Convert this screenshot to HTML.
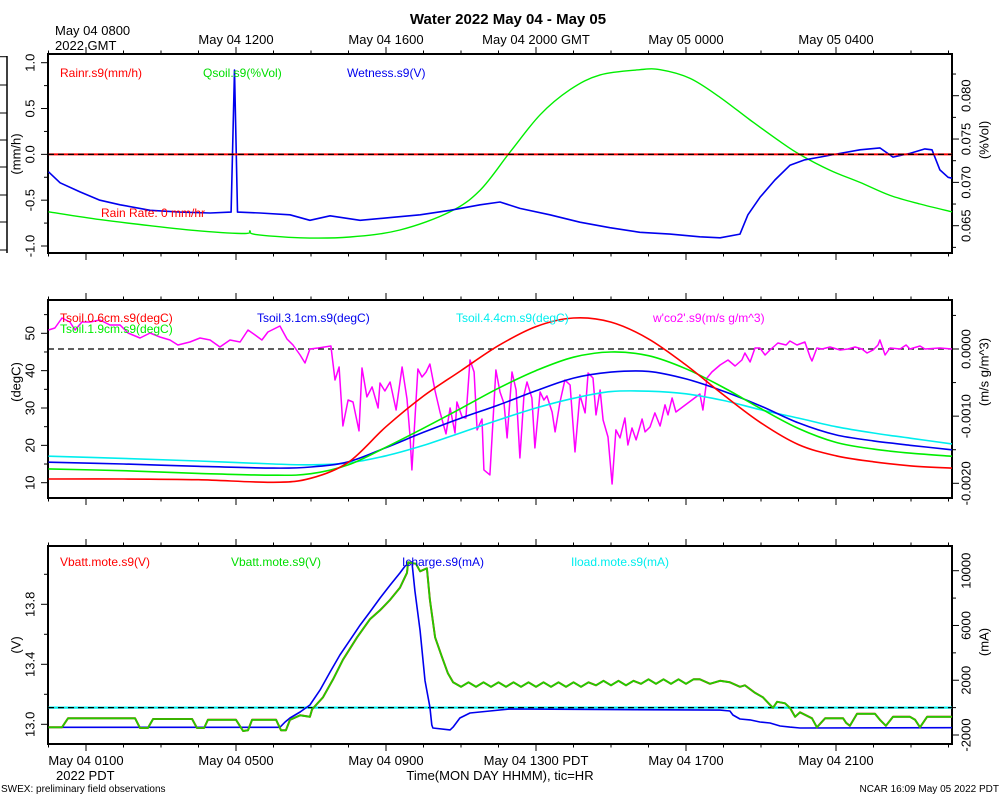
<!DOCTYPE html>
<html><head><meta charset="utf-8">
<style>
html,body{margin:0;padding:0;background:#fff;}
svg{display:block;font-family:"Liberation Sans",Arial,sans-serif;}
</style></head>
<body>
<svg id="chart" width="1000" height="800" viewBox="0 0 1000 800"></svg>
<script>
// ---------- DATA (time in hours since May 04 0000 PDT) ----------
// Panel 1
const wetT = [0,0.31,0.84,1.37,1.91,2.71,3.51,4.31,4.87,4.96,5.04,5.64,6.44,6.97,7.51,8.31,9.11,9.91,10.71,11.51,12.04,12.57,13.37,14.17,14.97,15.77,16.57,17.37,17.91,18.44,18.65,18.97,19.37,19.77,20.17,20.57,21.11,21.64,22.17,22.52,22.97,23.37,23.56,23.77,23.99,24.09];
const wetV = [-0.19,-0.31,-0.41,-0.50,-0.55,-0.61,-0.63,-0.64,-0.63,0.92,-0.63,-0.64,-0.66,-0.72,-0.67,-0.72,-0.69,-0.66,-0.61,-0.55,-0.52,-0.59,-0.66,-0.74,-0.80,-0.85,-0.87,-0.90,-0.91,-0.87,-0.66,-0.47,-0.28,-0.12,-0.06,-0.03,0.01,0.05,0.07,-0.03,0.01,0.06,0.05,-0.17,-0.25,-0.26];
const qsT = [0,1.37,2.71,4.04,5.24,5.37,5.51,6.71,8.04,9.37,10.71,11.51,12.31,13.11,13.91,14.71,15.77,16.31,17.11,17.91,18.71,19.51,20.04,20.84,21.64,22.44,23.24,24.09];
const qsV = [0.0666,0.0657,0.0650,0.0644,0.0641,0.0644,0.0640,0.0636,0.0637,0.0645,0.0666,0.0691,0.0735,0.0778,0.0807,0.0824,0.0830,0.0830,0.0820,0.0798,0.0772,0.0747,0.0732,0.0714,0.0700,0.0685,0.0675,0.0666];
const rainT = [0,24.09];
const rainV = [0,0];
// Panel 2
const tsT = [0,2,4,6,7,8,9,10,11,12,13,14,15,16,17,18,19,20,21,22,23,24.09];
const ts06 = [11.0,11.0,10.8,10.1,11.2,15.5,25.0,33.2,40.0,46.7,51.8,54.1,53.0,48.5,41.5,33.5,26.0,20.2,17.2,15.6,14.5,13.9];
const ts19 = [13.7,13.2,12.5,12.0,12.4,14.8,19.5,24.6,29.9,35.3,40.0,43.6,45.0,44.0,40.5,35.5,29.8,24.5,20.8,19.0,17.9,17.1];
const ts31 = [15.5,15.0,14.4,13.9,14.2,15.6,19.4,23.5,27.3,30.8,34.6,38.0,39.6,39.8,37.8,34.5,30.5,26.0,22.8,21.2,20.0,18.8];
const ts44 = [17.1,16.5,15.8,15.0,14.8,15.3,17.2,20.0,23.4,26.8,30.0,32.6,34.4,34.5,33.8,32.0,29.5,27.3,25.0,23.3,21.9,20.4];
const co2T = [0,0.17,0.36,0.57,0.71,0.89,1.11,1.37,1.64,1.91,2.12,2.44,2.71,2.97,3.24,3.45,3.77,4.04,4.31,4.57,4.84,5.11,5.32,5.51,5.69,5.85,
6.17,6.36,6.52,6.71,6.84,6.97,7.19,7.53,7.64,7.75,7.85,7.99,8.12,8.28,8.36,8.49,8.63,8.79,8.84,8.97,9.11,9.27,9.43,9.56,9.64,9.69,9.85,9.96,10.07,10.17,10.31,10.44,10.6,10.71,10.84,10.89,11.03,11.13,11.24,11.35,11.43,11.56,11.61,11.77,11.93,12.04,12.15,12.23,12.36,12.47,12.57,12.68,12.76,12.89,12.97,13.11,13.21,13.29,13.43,13.51,13.64,13.77,13.91,14.04,14.17,14.31,14.39,14.52,14.6,14.71,14.79,14.92,15.03,15.13,15.24,15.37,15.45,15.56,15.67,15.83,15.91,16.04,16.17,16.31,16.44,16.52,16.63,16.73,
17.37,17.45,17.56,17.69,17.91,18.12,18.31,18.49,18.57,18.71,18.84,18.97,19.11,19.24,19.45,19.67,19.77,19.96,20.17,20.31,20.36,20.49,20.63,20.84,21.11,21.32,21.51,21.69,21.83,21.99,22.12,22.17,22.31,22.44,22.71,22.87,22.97,23.24,23.37,23.77,24.09];
// w'co2' values in units of 1e-4 m/s g/m^3
const co2V = [2.83,3.13,4.61,4.02,2.83,4.02,4.02,4.32,3.57,3.57,2.38,1.64,2.38,1.79,1.34,0.60,1.04,1.64,1.34,0.30,1.34,1.04,2.83,2.08,1.34,2.53,
3.42,1.49,0.60,-0.89,-2.08,0,0.15,0.45,-4.61,-2.68,-11.46,-7.59,-7.89,-12.20,-2.83,-7.14,-5.65,-8.78,-5.06,-6.25,-4.91,-9.08,-2.68,-7.44,-12.95,-18.01,-2.98,-4.17,-3.42,-2.23,-6.25,-9.38,-12.65,-8.78,-12.5,-7.89,-10.12,-10.27,-1.64,-3.42,-12.05,-10.42,-18.01,-18.75,-3.13,-6.40,-8.18,-13.24,-3.42,-6.10,-16.22,-6.85,-4.91,-7.29,-14.73,-6.40,-7.59,-6.99,-9.38,-12.35,-7.89,-4.61,-5.36,-15.33,-6.85,-9.52,-3.57,-4.32,-9.82,-6.10,-10.57,-13.10,-20.1,-12.05,-13.24,-10.27,-14.29,-11.76,-13.54,-10.42,-12.35,-11.61,-9.52,-11.46,-8.33,-9.82,-7.29,-9.38,
-6.70,-9.08,-4.32,-3.42,-2.38,-1.64,-2.53,-1.64,-0.60,-1.93,0.15,0.15,-0.89,-0.15,0.89,0.60,1.19,0.60,1.04,-1.19,-1.79,0.15,0,0.30,-0.15,0,0.30,0,-0.60,-0.15,0.60,1.34,-0.89,0.15,0,0.60,0,0.45,0,0.15,0];
// Panel 3
const vbT = [0,0.36,0.52,2.31,2.44,2.65,2.79,3.83,3.96,4.15,4.25,5.0,5.19,5.32,5.43,6.07,6.2,6.33,6.44,6.71,6.97,7.03,7.32,7.59,7.85,8.23,8.57,8.84,9.11,9.37,9.56,9.59,9.80,9.91,10.09,10.17,10.31,10.49,10.65,10.79,
11.0,11.2,11.4,11.6,11.8,12.0,12.2,12.4,12.6,12.8,13.0,13.2,13.4,13.6,13.8,14.0,14.2,14.4,14.6,14.8,15.0,15.2,15.4,15.6,15.8,16.0,16.2,16.4,16.6,16.8,17.0,17.2,
17.37,17.64,17.91,18.17,18.44,18.57,18.84,19.05,19.24,19.32,19.43,19.64,19.77,19.91,20.04,20.36,20.49,20.71,21.19,21.27,21.37,21.56,21.91,22.04,22.17,22.33,22.52,22.97,23.11,23.24,23.43,23.91,24.09];
const vbV = [12.98,12.98,13.04,13.04,12.975,12.975,13.035,13.035,12.975,12.975,13.03,13.03,12.955,12.96,13.03,13.03,12.96,12.96,13.03,13.06,13.05,13.10,13.18,13.30,13.43,13.58,13.70,13.76,13.83,13.91,14.01,14.08,14.07,14.02,14.04,13.83,13.58,13.45,13.34,13.28,
13.25,13.28,13.25,13.28,13.25,13.28,13.25,13.28,13.25,13.28,13.25,13.28,13.25,13.28,13.25,13.28,13.25,13.28,13.26,13.29,13.26,13.29,13.26,13.29,13.27,13.30,13.27,13.30,13.27,13.30,13.27,13.30,
13.30,13.27,13.29,13.28,13.25,13.26,13.21,13.18,13.13,13.11,13.15,13.14,13.11,13.05,13.08,13.04,12.98,13.04,13.04,13.01,12.99,13.07,13.07,13.07,13.03,12.99,13.05,13.05,13.03,12.98,13.05,13.05,13.05];
const icT = [0,6.17,6.31,6.44,6.71,6.97,7.24,7.51,7.77,8.04,8.31,8.57,8.84,9.11,9.37,9.51,9.69,9.77,9.91,10.04,10.17,10.22,10.25,10.71,10.79,10.97,11.24,11.77,12.31,17.91,18.17,18.25,18.44,18.71,18.97,19.24,19.51,19.77,20.04,24.09];
const icV = [-1440,-1440,-1050,-760,-320,190,1280,2600,3840,4930,6030,6980,8000,8950,9830,10340,10650,8530,5620,1970,40,-1270,-1490,-1630,-1420,-760,-390,-250,-100,-180,-250,-540,-830,-900,-1050,-1120,-1340,-1420,-1490,-1470];
const ilT = [0,24.09];
const ilV = [0,0];
// tick label arrays
const topTickLabels = ["May 04 1200","May 04 1600","May 04 2000 GMT","May 05 0000","May 05 0400"];
const topTickHours = [5,9,13,17,21];
const botTickLabels = ["May 04 0500","May 04 0900","May 04 1300 PDT","May 04 1700","May 04 2100"];
const botTickHours = [5,9,13,17,21];
const p1LeftTicks = [1.0,0.5,0.0,-0.5,-1.0];
const p1RightTicks = [0.080,0.075,0.070,0.065];
const p2LeftTicks = [50,40,30,20,10];
const p2RightTicks = [0,-10,-20];
const p3LeftTicks = [13.8,13.4,13.0];
const p3RightTicks = [10000,6000,2000,-2000];

// ---------- HELPERS ----------
const NS="http://www.w3.org/2000/svg";
const svg=document.getElementById('chart');
function mk(tag,attrs,parent){const e=document.createElementNS(NS,tag);for(const k in attrs)e.setAttribute(k,attrs[k]);(parent||svg).appendChild(e);return e;}
const XL=48, XR=952;
const xs = t => 48.5 + 37.5*t;
function lin(v0,y0,v1,y1){return v=>y0+(v-v0)*(y1-y0)/(v1-v0);}
const P = [
 {top:54,bot:253, yl:lin(1,62.7,-1,246), yr:lin(0.080,95.7,0.065,225.7)},
 {top:300,bot:498, yl:lin(50,333.3,10,482.7), yr:lin(0,349,-20,483.3)},
 {top:546,bot:744, yl:lin(13.8,604.3,13.0,724.3), yr:lin(10000,570.7,-2000,735)}
];
function line(ts,vs,ys,color,name,w,smooth){
  const pts=ts.map((t,i)=>[xs(t),ys(vs[i])]);
  let d='M'+pts[0][0].toFixed(1)+' '+pts[0][1].toFixed(1);
  for(let i=1;i<pts.length;i++){
    if(smooth){
      const p0=pts[Math.max(0,i-2)],p1=pts[i-1],p2=pts[i],p3=pts[Math.min(pts.length-1,i+1)];
      const c1=[p1[0]+(p2[0]-p0[0])/6,p1[1]+(p2[1]-p0[1])/6];
      const c2=[p2[0]-(p3[0]-p1[0])/6,p2[1]-(p3[1]-p1[1])/6];
      d+='C'+c1[0].toFixed(1)+' '+c1[1].toFixed(1)+' '+c2[0].toFixed(1)+' '+c2[1].toFixed(1)+' '+p2[0].toFixed(1)+' '+p2[1].toFixed(1);
    } else d+='L'+pts[i][0].toFixed(1)+' '+pts[i][1].toFixed(1);
  }
  const p=mk('path',{d:d,fill:'none',stroke:color,'stroke-width':w||1.6,'stroke-linejoin':'round'});
  
  
  return p;
}
function text(x,y,s,attrs,name){
  const t=mk('text',Object.assign({x:x,y:y,'font-size':13,fill:'#000'},attrs||{}));
  t.textContent=s;
  
  
  return t;
}
function rtext(cx,cy,s,name,fs,color){
  const t=mk('text',{x:0,y:0,'font-size':fs||13,fill:color||'#000','text-anchor':'middle',transform:`translate(${cx},${cy}) rotate(-90)`,'dominant-baseline':'middle'});
  t.textContent=s;
  
  
  return t;
}

// ---------- TITLE ----------
text(508,24,"Water 2022 May 04 - May 05",{'font-size':15,'font-weight':'bold','text-anchor':'middle'},'chart-title');
text(55,35,"May 04 0800",{}, 'top-axis-first-label');
text(55,50,"2022 GMT",{}, 'top-axis-year-label');
topTickLabels.forEach((s,i)=>text(xs(topTickHours[i]),44,s,{'text-anchor':'middle'},'top-tick-label'));
text(86,765,"May 04 0100",{'text-anchor':'middle'},'bottom-axis-first-label');
text(56,780,"2022 PDT",{},'bottom-axis-year-label');
botTickLabels.forEach((s,i)=>text(xs(botTickHours[i]),765,s,{'text-anchor':'middle'},'bottom-tick-label'));
text(500,780,"Time(MON DAY HHMM), tic=HR",{'text-anchor':'middle'},'x-axis-title');
text(1,792,"SWEX: preliminary field observations",{'font-size':10},'footer-note');
text(999,792,"NCAR 16:09 May 05 2022 PDT",{'font-size':10,'text-anchor':'end'},'footer-credit');

// stray left axis bracket
mk('line',{x1:7,y1:56,x2:7,y2:253,stroke:'#000','stroke-width':1.5});
[56.7,85,113,140,167,195,222,250].forEach(y=>mk('line',{x1:0,y1:y,x2:7,y2:y,stroke:'#000','stroke-width':1}));

// ---------- PANEL FRAMES & AXES ----------
P.forEach((p,pi)=>{
  const g=mk('g',{});
  
  
  mk('rect',{x:XL,y:p.top,width:XR-XL,height:p.bot-p.top,fill:'none',stroke:'#000','stroke-width':2},g);
  for(let h=0;h<=24;h++){
    const x=xs(h); if(x>XR)continue;
    const L=(h%4===1)?7:3.5;
    mk('line',{x1:x,y1:p.top,x2:x,y2:p.top-L,stroke:'#000','stroke-width':1},g);
    mk('line',{x1:x,y1:p.bot,x2:x,y2:p.bot+L,stroke:'#000','stroke-width':1},g);
  }
});
function yticks(p,ys,major,minor,side,fmt,name){
  const x0 = side==='l'?XL:XR, dir = side==='l'?-1:1;
  minor.forEach(v=>{const y=ys(v); if(y>=p.top-1&&y<=p.bot+1) mk('line',{x1:x0,y1:y,x2:x0+dir*4,y2:y,stroke:'#000'});});
  major.forEach(v=>{const y=ys(v); mk('line',{x1:x0,y1:y,x2:x0+dir*7,y2:y,stroke:'#000'});
    rtext(side==='l'?31:967,y,fmt(v),name);});
}
yticks(P[0],P[0].yl,p1LeftTicks,[0.75,0.25,-0.25,-0.75],'l',v=>v.toFixed(1),'p1-left-tick-label');
yticks(P[0],P[0].yr,p1RightTicks,[0.0825,0.0775,0.0725,0.0675,0.0625],'r',v=>v.toFixed(3),'p1-right-tick-label');
yticks(P[1],P[1].yl,p2LeftTicks,[55,45,35,25,15],'l',v=>String(v),'p2-left-tick-label');
yticks(P[1],P[1].yr,p2RightTicks,[5,-5,-15],'r',v=>(v/10000).toFixed(4),'p2-right-tick-label');
yticks(P[2],P[2].yl,p3LeftTicks,[14.0,13.6,13.2],'l',v=>v.toFixed(1),'p3-left-tick-label');
yticks(P[2],P[2].yr,p3RightTicks,[8000,4000,0],'r',v=>String(v),'p3-right-tick-label');
rtext(17,154,"(mm/h)",'p1-left-axis-title');
rtext(985,140,"(%Vol)",'p1-right-axis-title');
rtext(17,382,"(degC)",'p2-left-axis-title');
rtext(985,372,"(m/s g/m^3)",'p2-right-axis-title');
rtext(17,645,"(V)",'p3-left-axis-title');
rtext(985,642,"(mA)",'p3-right-axis-title');

// ---------- PANEL 1 SERIES ----------
line(qsT,qsV,P[0].yr,'#00ee00','qsoil-line',1.4,true);
line(wetT,wetV,P[0].yl,'#0000ee','wetness-line',1.6);
line(rainT,rainV,P[0].yl,'#ff0000','rain-rate-line',2);
mk('line',{x1:XL,y1:P[0].yl(0),x2:XR,y2:P[0].yl(0),stroke:'#000','stroke-width':1.3,'stroke-dasharray':'6,4'});
text(60,77,"Rainr.s9(mm/h)",{'font-size':12,fill:'#ff0000'},'legend-rainr');
text(203,77,"Qsoil.s9(%Vol)",{'font-size':12,fill:'#00dd00'},'legend-qsoil');
text(347,77,"Wetness.s9(V)",{'font-size':12,fill:'#0000ee'},'legend-wetness');
text(101,217,"Rain Rate: 0 mm/hr",{'font-size':12,fill:'#ff0000'},'rain-rate-annotation');

// ---------- PANEL 2 SERIES ----------
mk('line',{x1:XL,y1:P[1].yr(0),x2:XR,y2:P[1].yr(0),stroke:'#000','stroke-width':1.3,'stroke-dasharray':'6,4'});
line(co2T,co2V,P[1].yr,'#ff00ff','wco2-line',1.5);
line(tsT,ts44,P[1].yl,'#00eeee','tsoil-4.4cm-line',1.6,true);
line(tsT,ts31,P[1].yl,'#0000ee','tsoil-3.1cm-line',1.6,true);
line(tsT,ts19,P[1].yl,'#00ee00','tsoil-1.9cm-line',1.6,true);
line(tsT,ts06,P[1].yl,'#ff0000','tsoil-0.6cm-line',1.6,true);
text(60,322,"Tsoil.0.6cm.s9(degC)",{'font-size':12,fill:'#ff0000'},'legend-tsoil-0.6');
text(60,333,"Tsoil.1.9cm.s9(degC)",{'font-size':12,fill:'#00ee00'},'legend-tsoil-1.9');
text(257,322,"Tsoil.3.1cm.s9(degC)",{'font-size':12,fill:'#0000ee'},'legend-tsoil-3.1');
text(456,322,"Tsoil.4.4cm.s9(degC)",{'font-size':12,fill:'#00eeee'},'legend-tsoil-4.4');
text(653,322,"w'co2'.s9(m/s g/m^3)",{'font-size':12,fill:'#ff00ff'},'legend-wco2');

// ---------- PANEL 3 SERIES ----------
line(ilT,ilV,P[2].yr,'#00eeee','iload-line',2.2);
mk('line',{x1:XL,y1:P[2].yr(0),x2:XR,y2:P[2].yr(0),stroke:'#000','stroke-width':1.3,'stroke-dasharray':'6,4'});
line(icT,icV,P[2].yr,'#0000ee','icharge-line',1.6);
line(vbT,vbV,P[2].yl,'#ee0000','vbatt-red-line',2);
line(vbT,vbV,P[2].yl,'#22cc00','vbatt-green-line',1.8);
text(60,566,"Vbatt.mote.s9(V)",{'font-size':12,fill:'#ff0000'},'legend-vbatt-red');
text(231,566,"Vbatt.mote.s9(V)",{'font-size':12,fill:'#00dd00'},'legend-vbatt-green');
text(402,566,"Icharge.s9(mA)",{'font-size':12,fill:'#0000ee'},'legend-icharge');
text(571,566,"Iload.mote.s9(mA)",{'font-size':12,fill:'#00eeee'},'legend-iload');
</script>
</body></html>
